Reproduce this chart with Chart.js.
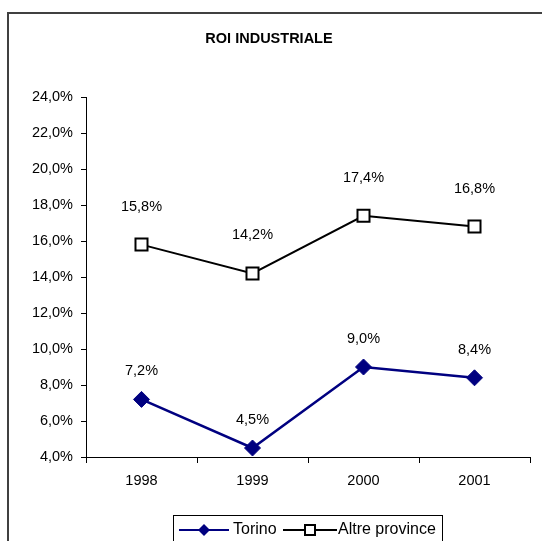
<!DOCTYPE html>
<html>
<head>
<meta charset="utf-8">
<script src="https://cdn.jsdelivr.net/npm/chart.js@4/dist/chart.umd.min.js"></script>
<style>
  html, body { margin: 0; padding: 0; background: #fff; }
  #wrap { width: 542px; height: 541px; }
</style>
</head>
<body>
<div id="wrap"><canvas id="myChart" width="542" height="541"></canvas></div>
<script>
var years = ["1998", "1999", "2000", "2001"];
var torino = [7.2, 4.5, 9.0, 8.4];
var altre = [15.8, 14.2, 17.4, 16.8];
var yTicks = [4, 6, 8, 10, 12, 14, 16, 18, 20, 22, 24];

var FONT = '"Liberation Sans", Arial, sans-serif';

function pct(v) {
  return v.toFixed(1).replace('.', ',') + '%';
}

// border, title, value labels and legend
var extras = {
  id: 'extras',
  afterDraw: function(chart) {
    var ctx = chart.ctx;
    ctx.save();
    ctx.strokeStyle = '#404040';
    ctx.lineWidth = 2;
    ctx.strokeRect(8, 13, 600, 600);

    ctx.fillStyle = '#000';
    ctx.font = 'bold 14.5px ' + FONT;
    ctx.textAlign = 'center';
    ctx.textBaseline = 'middle';
    ctx.fillText('ROI INDUSTRIALE', 269, 39);

    ctx.font = '14.5px ' + FONT;
    var offs = [28, 38];
    chart.data.datasets.forEach(function(ds, i) {
      var meta = chart.getDatasetMeta(i);
      meta.data.forEach(function(pt, j) {
        ctx.fillText(pct(ds.data[j]), pt.x, pt.y - offs[i]);
      });
    });

    // legend
    ctx.strokeStyle = '#000';
    ctx.lineWidth = 1;
    ctx.strokeRect(173.5, 515.5, 269, 40);
    var ly = 530;
    var d0 = chart.data.datasets[0], d1 = chart.data.datasets[1];
    ctx.strokeStyle = d0.borderColor;
    ctx.lineWidth = 2;
    ctx.beginPath(); ctx.moveTo(179, ly); ctx.lineTo(229, ly); ctx.stroke();
    ctx.fillStyle = d0.pointBackgroundColor;
    ctx.beginPath();
    ctx.moveTo(204, ly - 6); ctx.lineTo(210, ly); ctx.lineTo(204, ly + 6); ctx.lineTo(198, ly);
    ctx.closePath(); ctx.fill();
    ctx.fillStyle = '#000';
    ctx.textAlign = 'left';
    ctx.font = '16px ' + FONT;
    ctx.fillText(d0.label, 233, ly);

    ctx.strokeStyle = d1.borderColor;
    ctx.beginPath(); ctx.moveTo(283, ly); ctx.lineTo(337, ly); ctx.stroke();
    ctx.fillStyle = '#fff';
    ctx.fillRect(305, ly - 5, 10, 10);
    ctx.strokeRect(305, ly - 5, 10, 10);
    ctx.fillStyle = '#000';
    ctx.fillText(d1.label, 338, ly);
    ctx.restore();
  }
};

var ctx = document.getElementById('myChart').getContext('2d');
var myChart = new Chart(ctx, {
  type: 'line',
  data: {
    labels: years,
    datasets: [{
      label: 'Torino',
      data: torino,
      borderColor: '#000080',
      backgroundColor: '#000080',
      pointBackgroundColor: '#000080',
      pointBorderColor: '#000080',
      borderWidth: 2.5,
      pointStyle: 'rectRot',
      pointRadius: 8,
      pointBorderWidth: 1,
      tension: 0
    }, {
      label: 'Altre province',
      data: altre,
      borderColor: '#000',
      backgroundColor: '#fff',
      pointBackgroundColor: '#fff',
      pointBorderColor: '#000',
      borderWidth: 2,
      pointStyle: 'rect',
      pointRadius: 8.5,
      pointBorderWidth: 2,
      tension: 0
    }]
  },
  options: {
    responsive: false,
    animation: false,
    layout: { padding: { top: 97, left: 0, right: 12, bottom: 54 } },
    plugins: { legend: { display: false }, title: { display: false }, tooltip: { enabled: false } },
    scales: {
      x: {
        offset: true,
        afterFit: function(s) { s.height = 30; },
        grid: { offset: true, drawOnChartArea: false, tickLength: 6, color: '#000' },
        border: { color: '#000', width: 1 },
        ticks: { color: '#000', padding: 9, font: { family: FONT, size: 14.5 } }
      },
      y: {
        min: 4,
        max: 24,
        afterFit: function(s) { s.width = 86; },
        afterBuildTicks: function(s) { s.ticks = yTicks.map(function(v) { return { value: v }; }); },
        grid: { drawOnChartArea: false, tickLength: 5, color: '#000' },
        border: { color: '#000', width: 1 },
        ticks: {
          color: '#000', padding: 8,
          font: { family: FONT, size: 14.5 },
          callback: function(v) { return pct(v); }
        }
      }
    }
  },
  plugins: [extras]
});
</script>
</body>
</html>
